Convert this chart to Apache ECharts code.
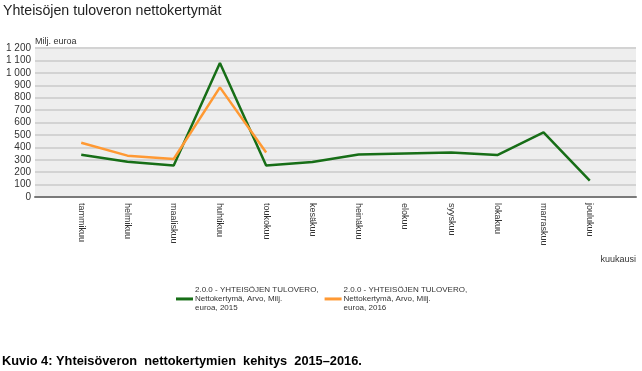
<!DOCTYPE html>
<html><head><meta charset="utf-8">
<script src="https://cdn.jsdelivr.net/npm/echarts@6/dist/echarts.min.js"></script>
<style>html,body{margin:0;padding:0;background:#fff}#c{width:642px;height:371px}</style>
</head><body><div id="c"></div>
<script>
var months = ['tammikuu','helmikuu','maaliskuu','huhtikuu','toukokuu','kesäkuu','heinäkuu','elokuu','syyskuu','lokakuu','marraskuu','joulukuu'];
var values2015 = [340, 284, 254, 1079, 254, 282, 343, 351, 359, 338, 520, 131];
var values2016 = [437, 333, 306, 883, 359];
var yTicks = [0, 100, 200, 300, 400, 500, 600, 700, 800, 900, 1000, 1100, 1200];
var name2015 = '2.0.0 - YHTEISÖJEN TULOVERO,\nNettokertymä, Arvo, Milj.\neuroa, 2015';
var name2016 = '2.0.0 - YHTEISÖJEN TULOVERO,\nNettokertymä, Arvo, Milj.\neuroa, 2016';

var cats = [''].concat(months).concat(['']);
function pad(arr){ var out=[null]; for (var i=0;i<months.length;i++) out.push(i<arr.length?arr[i]:null); out.push(null); return out; }
function fmt(v){ var s=String(v); return s.length>3 ? s.slice(0,s.length-3)+' '+s.slice(-3) : s; }

var chart = echarts.init(document.getElementById('c'));
chart.setOption({
  animation:false,
  textStyle:{fontFamily:'Liberation Sans, Arial, sans-serif'},
  grid:{left:35,right:6,top:48,bottom:174,show:true,backgroundColor:'#eeeeee',borderWidth:0},
  xAxis:{type:'category',data:cats,boundaryGap:false,
    axisTick:{show:false},
    axisLine:{lineStyle:{color:'#7a7a7a',width:2}},
    axisLabel:{interval:0,rotate:-90,fontSize:9,color:'#333',margin:6}},
  yAxis:{type:'value',min:yTicks[0],max:yTicks[yTicks.length-1],interval:100,
    axisLine:{show:false},axisTick:{show:false},
    splitLine:{lineStyle:{color:'#d3d3d3',width:2}},
    axisLabel:{fontSize:10,color:'#333',margin:4,formatter:fmt}},
  legend:{left:176,top:285,padding:0,itemWidth:17,itemHeight:3,itemGap:6,icon:'rect',
    textStyle:{fontSize:8,color:'#333',lineHeight:9.3,padding:[0,0,0,-3]},
    data:[name2015,name2016]},
  graphic:[
    {type:'text',left:3,top:4,style:{text:'Yhteisöjen tuloveron nettokertymät',fontSize:14.2,fill:'#222',fontFamily:'Liberation Sans, Arial, sans-serif'}},
    {type:'text',left:35,top:37,style:{text:'Milj. euroa',fontSize:9,fill:'#333',fontFamily:'Liberation Sans, Arial, sans-serif'}},
    {type:'text',right:6,top:255,style:{text:'kuukausi',fontSize:9,fill:'#333',fontFamily:'Liberation Sans, Arial, sans-serif'}},
    {type:'text',left:2,top:355,style:{text:'Kuvio 4: Yhteisöveron  nettokertymien  kehitys  2015–2016.',fontSize:12.8,fontWeight:'bold',fill:'#000',fontFamily:'Liberation Sans, Arial, sans-serif'}}
  ],
  series:[
    {name:name2015,type:'line',data:pad(values2015),symbol:'none',lineStyle:{color:'#176e17',width:2.5},itemStyle:{color:'#176e17'},connectNulls:false},
    {name:name2016,type:'line',data:pad(values2016),symbol:'none',lineStyle:{color:'#ff9933',width:2.5},itemStyle:{color:'#ff9933'},connectNulls:false}
  ]
});
</script></body></html>
